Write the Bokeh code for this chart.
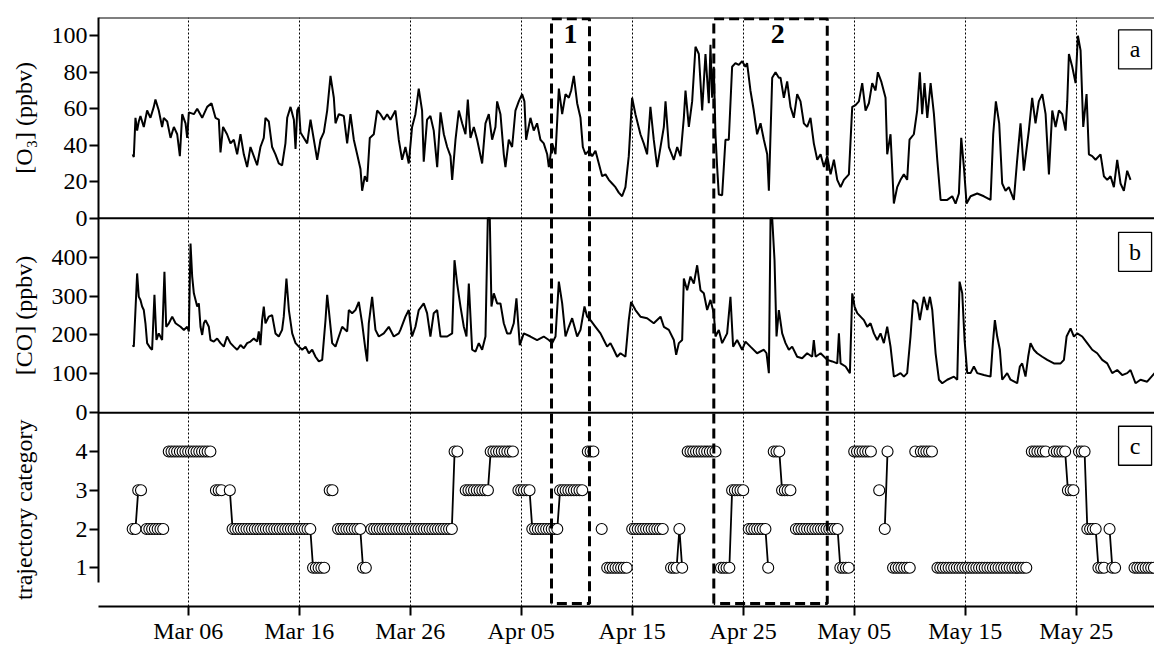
import numpy as np
import pandas as pd
from bokeh.plotting import figure
from bokeh.models import (Range1d, FixedTicker, DatetimeTickFormatter, LinearAxis,
                          CustomJSTickFormatter, Span)
from bokeh.core.properties import value
from bokeh.embed import file_html
from bokeh.resources import INLINE

# ---------------- data (days since 2008-03-01 00:00) ----------------
START = pd.Timestamp("2008-03-01")

o3_day = [0.0, 0.10, 0.25, 0.40, 0.55, 0.70, 1.00, 1.30, 1.60, 1.90, 2.05, 2.35, 2.65, 2.80, 3.11, 3.41, 3.71, 4.01, 4.25, 4.46,
          4.76, 4.91, 5.06, 5.51, 5.81, 6.26, 6.71, 7.10, 7.46, 7.76, 7.91, 8.14, 8.50, 8.81, 9.11, 9.41, 9.71, 10.01, 10.31, 10.61,
          10.91, 11.21, 11.51, 11.81, 11.96, 12.26, 12.56, 12.86, 13.16, 13.46, 13.76, 13.92, 14.22, 14.52, 14.67, 14.82, 14.97, 15.12,
          15.42, 15.72, 16.02, 16.32, 16.62, 16.92, 17.22, 17.52, 17.82, 18.12, 18.27, 18.57, 19.02, 19.32, 19.62, 19.92, 20.22, 20.52,
          20.67, 20.91, 21.12, 21.36, 21.72, 22.02, 22.32, 22.62, 22.92, 23.22, 23.67, 23.97,
          24.27, 24.57, 24.87, 25.17, 25.47, 25.77, 26.07, 26.22, 26.52, 26.82, 27.12, 27.43, 27.73, 28.03, 28.33, 28.63, 28.78, 29.08,
          29.38, 29.68, 29.98, 30.19, 30.43, 30.73, 31.03, 31.48, 31.78, 32.08, 32.38, 32.68, 32.83, 33.13, 33.43, 33.58, 33.88, 34.18,
          34.48, 34.78, 35.08, 35.29, 35.44, 35.83, 36.13, 36.43, 36.73, 37.03, 37.34, 37.49, 37.79, 38.09, 38.39, 38.69, 38.99, 39.29,
          39.50, 39.74, 40.04, 40.34, 40.55, 40.79, 41.09, 41.39, 41.69, 41.99, 42.29, 42.59, 42.89, 43.19, 43.49, 43.79, 44.09, 44.39,
          44.69, 44.99, 45.29, 45.74, 46.04, 46.34, 46.64, 46.94, 47.25, 47.55, 47.85, 48.00, 48.30, 48.75, 49.05, 49.35, 49.65, 49.80,
          50.10, 50.40, 50.70, 51.00, 51.30, 51.60, 51.90, 52.05, 52.20, 52.35, 52.50, 52.65, 52.80, 53.10, 53.40, 53.70, 54.00, 54.30,
          54.60, 54.90, 55.20, 55.35, 55.65, 55.95, 56.25, 56.56, 56.86, 57.16, 57.31, 57.61, 57.91, 58.21,
          58.36, 58.66, 58.96, 59.26, 59.56, 59.86, 60.16, 60.46, 60.76, 61.06, 61.36, 61.67, 61.97, 62.27, 62.57, 62.87, 63.17, 63.47,
          63.77, 64.07, 64.52, 64.82, 65.12, 65.42, 65.72, 66.02, 66.32, 66.62, 66.92, 67.13, 67.43, 67.82, 67.97, 68.27, 68.57, 68.87,
          69.17, 69.47, 69.77, 69.98, 70.37, 70.67, 70.91, 71.12, 71.33, 71.58, 71.88, 72.18, 72.48, 72.78, 73.38, 73.83, 74.13, 74.43,
          74.64, 74.88, 75.12, 75.48, 76.08, 76.68, 77.28, 77.52, 77.76, 78.06, 78.33, 78.63, 78.93, 79.38, 79.68, 79.98, 80.28, 80.73,
          81.03, 81.33, 81.63, 81.94, 82.24, 82.54, 82.84, 83.14, 83.44, 83.74, 84.04, 84.19, 84.34, 84.64, 84.94, 85.15, 85.39, 85.63,
          85.93, 86.14, 86.44, 86.74, 87.19, 87.49, 87.79, 88.09, 88.39, 88.69, 88.99, 89.29, 89.59, 89.89]
o3_ppbv = [35, 33.5, 55, 48, 53, 56, 50, 59, 55, 61, 65, 59, 50, 55, 53, 44, 50, 46, 34, 57,
           52, 44, 58, 57, 60, 55, 61, 63, 55, 54, 36, 50, 46, 41, 43, 35, 46, 35, 28, 39,
           34, 29, 39, 44, 55, 53, 39, 35, 30, 29, 41, 55, 61, 54, 38, 59, 61, 47,
           44, 41, 54, 43, 32, 43, 47, 59, 78, 66, 52, 57, 56, 41, 57, 43, 35, 27,
           15, 23, 20, 44, 46, 59, 57, 54, 57, 54, 59, 43,
           32, 39, 30, 50, 57, 71, 59, 31, 54, 56, 48, 28, 58, 46, 39, 34, 21, 43,
           59, 52, 46, 65, 44, 50, 43, 30, 52, 57, 43, 50, 64, 57, 35, 28, 43, 39,
           59, 64, 68, 64, 43, 55, 48, 52, 43, 41, 35, 28, 41, 35, 71, 57, 68, 66,
           70, 78, 63, 55, 39, 35, 37, 34, 37, 30, 23, 24, 21, 19, 17, 14, 12, 17,
           34, 66, 57, 46, 41, 35, 61, 43, 28, 39, 50, 64, 39, 32, 39, 34, 55, 70,
           50, 64, 94, 90, 59, 90, 63, 95, 66, 83, 46, 28, 13, 12.6, 43, 43, 83, 85,
           84, 86, 83, 85, 70, 59, 46, 52, 43, 35, 15, 77, 80, 77,
           77, 66, 75, 61, 55, 68, 64, 52, 50, 55, 41, 32, 35, 28, 34, 24, 32, 21,
           17, 21, 24, 61, 62, 64, 74, 59, 63, 74, 70, 80, 75, 66, 35, 46, 8, 17,
           21, 24, 21, 43, 46, 59, 80, 57, 74, 55, 74, 57, 32, 10, 10, 12, 8, 13.5,
           44, 28, 8, 12, 13.5, 12, 10, 46, 64, 52, 19, 15, 17, 10, 32, 52, 26, 48,
           66, 52, 64, 68, 57, 24, 59, 50, 59, 57, 48, 64, 90, 83, 74, 100, 92, 50,
           68, 35, 34, 32, 35, 23, 21, 23, 17, 32, 19, 15, 26, 21]

co_day = [0.0, 0.10, 0.40, 0.55, 0.70, 0.85, 1.00, 1.15, 1.30, 1.60, 1.75, 1.96, 2.14, 2.35, 2.65, 2.86, 3.02, 3.26, 3.56, 3.86,
          4.31, 4.61, 4.91, 5.06, 5.21, 5.36, 5.51, 5.81, 5.96, 6.11, 6.26, 6.41, 6.56, 6.86, 7.01, 7.31, 7.61, 7.91, 8.21, 8.50,
          8.81, 9.11, 9.41, 9.71, 10.01, 10.31, 10.61, 10.91, 11.21, 11.36, 11.51, 11.66, 11.81, 11.96, 12.26, 12.56, 12.86, 13.16,
          13.46, 13.61, 13.85, 14.07, 14.37, 14.67, 14.97, 15.27, 15.57, 15.87, 16.17, 16.47, 16.77, 17.07, 17.37, 17.52, 17.67, 17.97,
          18.27, 18.57, 18.87, 19.17, 19.32, 19.47, 19.77, 20.07, 20.37, 20.67, 20.97, 21.12, 21.27, 21.57, 21.87, 22.17, 22.62, 23.07,
          23.52, 23.97,
          24.12, 24.57, 24.87, 25.17, 25.47, 25.77, 26.22, 26.52, 26.82, 27.12, 27.43, 27.73, 28.33, 28.78, 28.99, 29.23, 29.53, 29.83,
          30.07, 30.28, 30.58, 30.88, 31.18, 31.48, 31.78, 31.99, 32.17, 32.32, 32.53, 32.83, 33.13, 33.43, 33.73, 34.03, 34.33, 34.57,
          34.87, 35.23, 35.83, 36.43, 37.03, 37.49, 37.79, 38.09, 38.39, 38.69, 38.99, 39.29, 39.59, 40.04, 40.34, 40.70, 40.94, 41.24,
          41.69, 42.14, 42.44, 42.74, 43.04, 43.34, 43.64, 43.94, 44.39, 44.69, 44.90, 45.29, 45.74, 46.34, 46.94, 47.55, 47.85, 48.30,
          48.75, 48.96, 49.20, 49.50, 49.65, 49.95, 50.25, 50.55, 50.85, 51.15, 51.45, 51.75, 52.05, 52.35, 52.50, 52.80, 53.10, 53.55,
          53.85, 54.09, 54.45, 54.90, 55.20, 55.65, 56.25, 56.86, 57.10, 57.31, 57.46, 57.61, 57.82, 58.00, 58.21,
          58.51, 58.81, 59.11, 59.41, 59.86, 60.31, 60.76, 61.21, 61.36, 61.52, 61.97, 62.57, 63.02, 63.47, 63.62, 63.77, 64.22, 64.61,
          64.82, 65.03, 65.27, 65.57, 65.87, 66.17, 66.47, 66.77, 67.07, 67.37, 67.67, 67.97, 68.27, 68.57, 68.87, 69.17, 69.47, 69.77,
          70.07, 70.31, 70.67, 70.91, 71.27, 71.58, 71.82, 72.03, 72.33, 72.63, 72.93, 73.38, 73.98, 74.28, 74.49, 74.73, 74.94, 75.18,
          75.48, 75.78, 76.08, 76.68, 77.28, 77.49, 77.67, 77.88, 78.12, 78.33, 78.78, 79.08, 79.68, 79.92, 80.13, 80.43, 80.67, 80.88,
          81.18, 81.48, 81.94, 82.39, 82.99, 83.59, 83.89, 84.13, 84.49, 84.79, 85.09, 85.54, 85.99, 86.44, 86.89, 87.34, 87.79, 88.24,
          88.69, 89.14, 89.59, 89.89, 90.34, 90.79, 91.39, 92.06]
co_ppbv = [174, 170, 358, 298, 290, 273, 264, 230, 179, 166, 162, 303, 187, 204, 187, 362, 221, 230, 247, 230,
           221, 213, 221, 209, 435, 350, 307, 273, 281, 221, 200, 230, 238, 221, 187, 183, 191, 179, 170, 196,
           179, 170, 162, 174, 166, 179, 183, 191, 183, 209, 174, 238, 273, 230, 247, 251, 204, 196,
           213, 247, 345, 264, 204, 179, 170, 162, 170, 153, 162, 144, 132, 136, 238, 303, 264, 179,
           170, 196, 221, 213, 209, 264, 256, 264, 285, 230, 162, 132, 230, 298, 213, 196, 204, 221,
           196, 204,
           213, 247, 264, 196, 221, 264, 281, 256, 196, 256, 264, 196, 196, 204, 392, 332, 273, 221,
           196, 332, 162, 157, 179, 162, 196, 500, 500, 273, 307, 281, 281, 230, 204, 204, 230, 294,
           174, 204, 196, 187, 196, 187, 179, 196, 337, 281, 196, 221, 243, 196, 213, 273, 247, 238,
           221, 204, 187, 170, 179, 162, 144, 153, 144, 238, 285, 264, 247, 243, 230, 247, 221, 213,
           187, 149, 179, 187, 345, 315, 350, 332, 379, 315, 307, 264, 290, 256, 196, 213, 179, 204,
           298, 170, 187, 162, 183, 170, 153, 162, 153, 102, 500, 500, 392, 196, 264,
           204, 179, 162, 170, 144, 140, 153, 144, 187, 144, 153, 136, 132, 127, 204, 127, 119, 102,
           307, 273, 256, 247, 238, 221, 230, 204, 187, 204, 179, 221, 170, 93, 97, 102, 93, 102,
           196, 290, 281, 238, 298, 264, 298, 264, 153, 85, 76, 85, 93, 85, 337, 307, 187, 102,
           102, 119, 102, 97, 93, 179, 238, 196, 162, 85, 102, 85, 76, 119, 127, 93, 144, 179,
           162, 153, 144, 136, 127, 127, 136, 196, 217, 196, 204, 196, 179, 162, 153, 136, 127, 102,
           110, 97, 102, 110, 76, 85, 80, 102]

# trajectory category, 6-hourly; each run starts at the given day, one character per 6 h
traj_seg_start = [0.0, 1.25, 3.25, 7.5, 8.75, 17.75, 18.5, 21.5, 30.0, 34.75, 41.0, 42.25, 42.75, 45.0, 48.5, 50.0,
                  53.0, 55.5, 57.75, 59.75, 65.0, 67.25, 67.75, 68.5, 70.5, 71.0, 72.5, 81.0, 83.0, 85.25, 88.0, 90.25]
traj_seg_code = ["2233", "2222222", "4444444444444444", "333",
                 "3" "2222222222" "2222222222" "222222222" "11111",
                 "33", "222222222" "11",
                 "2222222222" "2222222222" "2222222222" "44",
                 "333333333" "444444444",
                 "33333" "2222222222" "333333333",
                 "444", "2", "11111111", "222222222222", "11121", "44444444444",
                 "1111" "33333", "2222222" "1", "444" "3333",
                 "2222222222" "222222" "1111",
                 "4444444", "3", "24", "1111111", "4", "44444",
                 "1111111111" "1111111111" "1111111111" "111",
                 "444444", "44444" "333", "444" "2222" "111", "211", "11111111"]

tick_dates = ["2008-03-06", "2008-03-16", "2008-03-26", "2008-04-05", "2008-04-15",
              "2008-04-25", "2008-05-05", "2008-05-15", "2008-05-25"]
o3_ticks = [0, 20, 40, 60, 80, 100]
co_ticks = [0, 100, 200, 300, 400]
traj_ticks = [1, 2, 3, 4]
axis_titles = ["[O\u2083] (ppbv)", "[CO] (ppbv)", "trajectory category"]

episode_start = [37.73, 52.35]
episode_end = [41.15, 62.57]
episode_label = ["1", "2"]
episode_label_day = [39.44, 58.1]

panel_letters = ["a", "b", "c"]

# ---------------- helpers ----------------
def ms(days):
    return START.value / 1e6 + np.asarray(days, dtype=float) * 86400000.0

FONT = "Liberation Serif"
FS = "24px"
FRAME_H = 590.0
panels = ("o3", "co", "traj")
bands = {"o3": (389.0, 590.0, 0.0, 110.0),
         "co": (194.0, 389.0, 0.0, 500.0),
         "traj": (0.0, 194.0, 0.0, 5.0)}

def band_range(name):
    b0, b1, v0, v1 = bands[name]
    s = (b1 - b0) / (v1 - v0)
    return Range1d(v0 - b0 / s, v0 + (FRAME_H - b0) / s)

def to_frame(name, v):
    b0, b1, v0, v1 = bands[name]
    return b0 + (np.asarray(v, float) - v0) * (b1 - b0) / (v1 - v0)

def nearest_label_formatter(pos, lab):
    return CustomJSTickFormatter(args=dict(pos=pos, lab=lab), code="""
let best = ''; let bd = 1e9;
for (let i = 0; i < pos.length; i++) { const d = Math.abs(pos[i] - tick); if (d < bd) { bd = d; best = lab[i]; } }
return best;
""")

p = figure(width=1154, height=646, x_axis_type="datetime", output_backend="svg",
           toolbar_location=None, x_range=Range1d(ms(-3.08), ms(92.05)),
           y_range=Range1d(0, FRAME_H), min_border_left=98, min_border_right=0,
           min_border_top=17, min_border_bottom=39)
p.outline_line_color = None
p.extra_y_ranges = {k: band_range(k) for k in bands}

tick_ms = [float(ms((pd.Timestamp(d) - START).days)) for d in tick_dates]
p.xgrid.ticker = FixedTicker(ticks=tick_ms)
p.xgrid.grid_line_color = "black"
p.xgrid.grid_line_dash = "2 2"
p.xgrid.grid_line_width = 1
p.ygrid.visible = False

xa = p.xaxis[0]
xa.ticker = FixedTicker(ticks=tick_ms)
xa.formatter = DatetimeTickFormatter(days="%b %d", months="%b %d", hours="%b %d")
xa.axis_line_width = 2
xa.major_tick_line_width = 2
xa.major_tick_out = 9
xa.major_tick_in = 0
xa.minor_tick_line_color = None
xa.major_label_text_font = FONT
xa.major_label_text_font_size = FS
xa.major_label_text_color = "black"
xa.major_label_standoff = 2

# numeric y axis: one spine carrying the three panels' ticks
tick_pos, tick_lab = [], []
for name, ticks in zip(panels, (o3_ticks, co_ticks, traj_ticks)):
    for tk in ticks:
        tick_pos.append(float(to_frame(name, tk)))
        tick_lab.append(str(tk))
ya = p.yaxis[0]
ya.ticker = FixedTicker(ticks=tick_pos)
ya.formatter = nearest_label_formatter(tick_pos, tick_lab)
ya.axis_line_width = 2
ya.major_tick_line_width = 2
ya.major_tick_out = 9
ya.major_tick_in = 0
ya.minor_tick_line_color = None
ya.major_label_text_font = FONT
ya.major_label_text_font_size = FS
ya.major_label_text_color = "black"
ya.major_label_standoff = 2
ya.bounds = (24, FRAME_H)

# outer y axis carrying the three panel titles, centred on each panel
title_pos = [float((bands[k][0] + bands[k][1]) / 2) for k in panels]
ta = LinearAxis(ticker=FixedTicker(ticks=title_pos),
                formatter=nearest_label_formatter(title_pos, axis_titles),
                axis_line_color=None, major_tick_line_color=None, minor_tick_line_color=None,
                major_tick_out=0, major_tick_in=0, major_label_standoff=11,
                major_label_orientation="vertical", major_label_text_font=FONT,
                major_label_text_font_size=FS, major_label_text_color="black")
p.add_layout(ta, "left")

for loc in (FRAME_H, bands["o3"][0], bands["co"][0]):
    p.add_layout(Span(location=loc, dimension="width", line_color="black", line_width=2))

p.line(ms(o3_day), o3_ppbv, y_range_name="o3", line_color="black", line_width=2)
p.line(ms(co_day), co_ppbv, y_range_name="co", line_color="black", line_width=2)

tx, ty, lx, ly = [], [], [], []
for s, code in zip(traj_seg_start, traj_seg_code):
    for k, c in enumerate(code):
        tx.append(s + 0.25 * k)
        ty.append(int(c))
        lx.append(float(ms(s + 0.25 * k)))
        ly.append(int(c))
    lx.append(np.nan)
    ly.append(np.nan)
p.line(lx, ly, y_range_name="traj", line_color="black", line_width=1.8)
p.scatter(ms(tx), ty, y_range_name="traj", marker="circle", size=11,
          fill_color="white", line_color="black", line_width=1.1)

bx, by = [], []
for s, e in zip(episode_start, episode_end):
    bx.append(list(ms([s, s, e, e, s])))
    by.append([3, 588.7, 588.7, 3, 3])
p.multi_line(bx, by, line_color="black", line_width=3, line_dash="10 5")
p.text(ms(episode_label_day), [573] * 2, text=episode_label, text_font=value(FONT),
       text_font_size="28px", text_font_style="bold", text_align="center",
       text_baseline="middle", text_color="black")

letter_y = [558, 355.3, 161]
p.rect(ms([90.3] * 3), letter_y, width=33, height=39, width_units="screen",
       height_units="screen", fill_color="white", line_color="black", line_width=1.3)
p.text(ms([90.3] * 3), letter_y, text=panel_letters, text_font=value(FONT),
       text_font_size=FS, text_align="center", text_baseline="middle", text_color="black")

open("out.html", "w").write(file_html(p, INLINE))
